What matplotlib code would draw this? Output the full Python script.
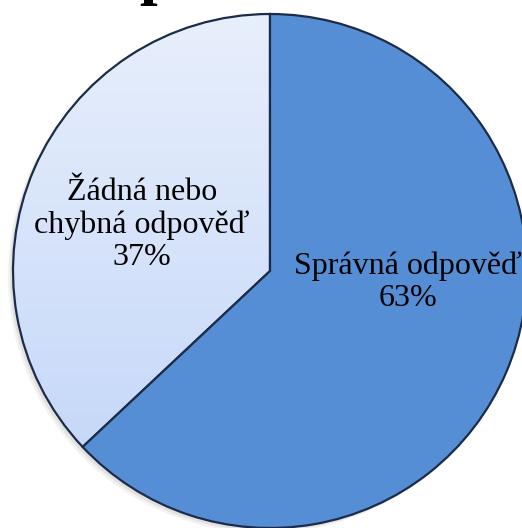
import numpy as np
import matplotlib
matplotlib.use('Agg')
import matplotlib.pyplot as plt
from matplotlib.colors import LinearSegmentedColormap
from matplotlib.patches import Circle

# data
labels = ['Žádná nebo\nchybná odpověď', 'Správná odpověď']
values = [37, 63]
label_pos = [(142, 528 - 225), (408, 528 - 282)]

plt.rcParams['font.family'] = ['Liberation Serif', 'DejaVu Serif']

fig = plt.figure(figsize=(5.22, 5.28), dpi=100)
ax = fig.add_axes([0, 0, 1, 1])

cx, cy, r = 270, 528 - 271, 257

# soft shadow under the pie
for k, a in [(5, 0.10), (3, 0.15)]:
    ax.add_patch(Circle((cx - k, cy - k), r, color='#808080', alpha=a, lw=0, zorder=0))

wedges, _ = ax.pie(values, startangle=90, counterclock=True, center=(cx, cy), radius=r,
                   colors=['#dce7fb', '#558ed5'],
                   wedgeprops=dict(edgecolor='#1c2c48', linewidth=1.6),
                   frame=True)

# gradient for the light slice
grad = LinearSegmentedColormap.from_list('g', ['#c0d4f8', '#e8effc'])
img = ax.imshow(np.linspace(0, 1, 256).reshape(-1, 1), cmap=grad, aspect='auto',
                extent=[cx - r, cx + r, cy - r, cy + r], origin='lower', zorder=1.5)
img.set_clip_path(wedges[0])
wedges[0].set_facecolor('none')
wedges[0].set_zorder(2)
wedges[1].set_zorder(2)

for lab, v, (x, y) in zip(labels, values, label_pos):
    ax.text(x, y, f'{lab}\n{v}%', ha='center', va='center', fontsize=23,
            linespacing=1.15, color='black', zorder=3)

# title, mostly cut off above the picture
ax.text(139, 528 + 8, 'p', ha='left', va='baseline', fontsize=46,
        fontweight='bold', zorder=3)

ax.set_xlim(0, 522)
ax.set_ylim(0, 528)
ax.set_aspect('auto')
ax.axis('off')

fig.savefig('out.png', dpi=100)
